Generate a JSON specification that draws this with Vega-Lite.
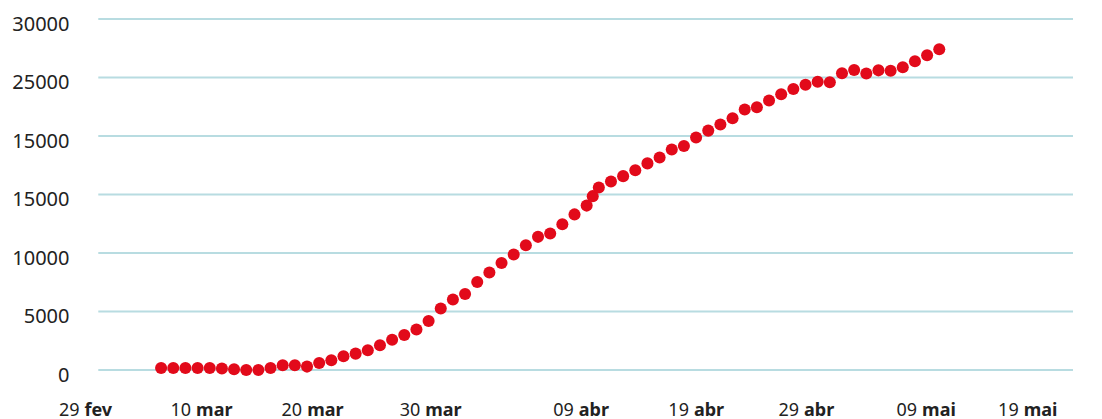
{
  "$schema": "https://vega.github.io/schema/vega-lite/v6.json",
  "width": 997,
  "height": 351,
  "autosize": "none",
  "padding": {"left": 76, "top": 19, "right": 29, "bottom": 49},
  "background": "white",
  "config": {"view": {"stroke": null}, "font": "Noto Sans"},
  "datasets": {
    "grid": [{"v": 0}, {"v": 5000}, {"v": 10000}, {"v": 15000}, {"v": 20000}, {"v": 25000}, {"v": 30000}],
    "cases": [
      {"date": "2020-03-07", "cases": 170},
      {"date": "2020-03-08", "cases": 170},
      {"date": "2020-03-09", "cases": 170},
      {"date": "2020-03-10", "cases": 170},
      {"date": "2020-03-11", "cases": 170},
      {"date": "2020-03-12", "cases": 120},
      {"date": "2020-03-13", "cases": 60},
      {"date": "2020-03-14", "cases": 0},
      {"date": "2020-03-15", "cases": 0},
      {"date": "2020-03-16", "cases": 170},
      {"date": "2020-03-17", "cases": 400},
      {"date": "2020-03-18", "cases": 400},
      {"date": "2020-03-19", "cases": 290},
      {"date": "2020-03-20", "cases": 600},
      {"date": "2020-03-21", "cases": 830},
      {"date": "2020-03-22", "cases": 1170},
      {"date": "2020-03-23", "cases": 1400},
      {"date": "2020-03-24", "cases": 1690},
      {"date": "2020-03-25", "cases": 2110},
      {"date": "2020-03-26", "cases": 2580},
      {"date": "2020-03-27", "cases": 2990},
      {"date": "2020-03-28", "cases": 3460},
      {"date": "2020-03-29", "cases": 4190},
      {"date": "2020-03-30", "cases": 5250},
      {"date": "2020-03-31", "cases": 6020},
      {"date": "2020-04-01", "cases": 6500},
      {"date": "2020-04-02", "cases": 7530},
      {"date": "2020-04-03", "cases": 8330},
      {"date": "2020-04-04", "cases": 9150},
      {"date": "2020-04-05", "cases": 9870},
      {"date": "2020-04-06", "cases": 10670},
      {"date": "2020-04-07", "cases": 11380},
      {"date": "2020-04-08", "cases": 11670},
      {"date": "2020-04-09", "cases": 12460},
      {"date": "2020-04-10", "cases": 13300},
      {"date": "2020-04-11", "cases": 14050},
      {"date": "2020-04-11T12:00:00Z", "cases": 14860},
      {"date": "2020-04-12", "cases": 15600},
      {"date": "2020-04-13", "cases": 16120},
      {"date": "2020-04-14", "cases": 16570},
      {"date": "2020-04-15", "cases": 17080},
      {"date": "2020-04-16", "cases": 17660},
      {"date": "2020-04-17", "cases": 18170},
      {"date": "2020-04-18", "cases": 18850},
      {"date": "2020-04-19", "cases": 19140},
      {"date": "2020-04-20", "cases": 19880},
      {"date": "2020-04-21", "cases": 20460},
      {"date": "2020-04-22", "cases": 20980},
      {"date": "2020-04-23", "cases": 21510},
      {"date": "2020-04-24", "cases": 22260},
      {"date": "2020-04-25", "cases": 22450},
      {"date": "2020-04-26", "cases": 23030},
      {"date": "2020-04-27", "cases": 23560},
      {"date": "2020-04-28", "cases": 24010},
      {"date": "2020-04-29", "cases": 24380},
      {"date": "2020-04-30", "cases": 24640},
      {"date": "2020-05-01", "cases": 24590},
      {"date": "2020-05-02", "cases": 25360},
      {"date": "2020-05-03", "cases": 25640},
      {"date": "2020-05-04", "cases": 25340},
      {"date": "2020-05-05", "cases": 25610},
      {"date": "2020-05-06", "cases": 25580},
      {"date": "2020-05-07", "cases": 25880},
      {"date": "2020-05-08", "cases": 26390},
      {"date": "2020-05-09", "cases": 26900},
      {"date": "2020-05-10", "cases": 27410}
    ]
  },
  "layer": [
    {
      "data": {"name": "grid"},
      "mark": {"type": "rule", "stroke": "#b8dce1", "strokeWidth": 2},
      "encoding": {
        "y": {
          "field": "v", "type": "quantitative",
          "scale": {"domain": [0, 30000], "nice": false, "zero": true},
          "axis": {"values": [0, 5000, 10000, 15000, 20000, 25000, 30000], "labelExpr": "datum.value == 20000 ? '15000' : format(datum.value, 'd')", "grid": false, "ticks": false, "domain": false, "title": null, "labelPadding": 7, "labelOffset": 5, "labelFont": "Noto Sans", "labelFontSize": 20, "labelColor": "#222222"}
        },
        "x": {
          "datum": {"year": 2020, "month": 3, "date": 1, "hours": 20, "utc": true},
          "type": "temporal",
          "scale": {"type": "utc", "domain": [{"year": 2020, "month": 2, "date": 29, "utc": true}, {"year": 2020, "month": 5, "date": 21, "utc": true}], "nice": false},
          "axis": {
            "orient": "bottom", "title": null,
            "values": [
              {"year": 2020, "month": 2, "date": 29, "utc": true},
              {"year": 2020, "month": 3, "date": 10, "utc": true},
              {"year": 2020, "month": 3, "date": 20, "utc": true},
              {"year": 2020, "month": 3, "date": 30, "utc": true},
              {"year": 2020, "month": 4, "date": 9, "utc": true},
              {"year": 2020, "month": 4, "date": 19, "utc": true},
              {"year": 2020, "month": 4, "date": 29, "utc": true},
              {"year": 2020, "month": 5, "date": 9, "utc": true},
              {"year": 2020, "month": 5, "date": 19, "utc": true}
            ],
            "labelExpr": "['jan','fev','mar','abr','mai','jun','jul','ago','set','out','nov','dez'][utcmonth(datum.value)]",
            "labelAlign": "left", "labelBaseline": "top", "labelFontWeight": "bold",
            "labelFont": "Noto Sans", "labelFontSize": 18, "labelColor": "#222222",
            "labelPadding": 31, "ticks": false, "tickSize": 0, "domain": false, "grid": false,
            "labelFlush": false, "labelOverlap": false,
            "labelOffset": {
              "condition": [
                {"test": "utcmonth(datum.value)==1", "value": 8},
                {"test": "utcmonth(datum.value)==2 && utcdate(datum.value)==10", "value": -2},
                {"test": "utcmonth(datum.value)==2 && utcdate(datum.value)==20", "value": -12.5},
                {"test": "utcmonth(datum.value)==2 && utcdate(datum.value)==30", "value": -16},
                {"test": "utcmonth(datum.value)==3 && utcdate(datum.value)==9", "value": 16},
                {"test": "utcmonth(datum.value)==3 && utcdate(datum.value)==19", "value": 9.5},
                {"test": "utcmonth(datum.value)==3 && utcdate(datum.value)==29", "value": -2},
                {"test": "utcmonth(datum.value)==4 && utcdate(datum.value)==9", "value": -5.5},
                {"test": "utcmonth(datum.value)==4 && utcdate(datum.value)==19", "value": -25.5}
              ],
              "value": 2
            }
          }
        },
        "x2": {"datum": {"year": 2020, "month": 5, "date": 21, "utc": true}}
      }
    },
    {
      "data": {"name": "cases"},
      "mark": {"type": "circle", "size": 145, "color": "#e20a1a", "opacity": 1},
      "encoding": {
        "x": {
          "field": "date", "type": "temporal",
          "scale": {"type": "utc", "domain": [{"year": 2020, "month": 2, "date": 29, "utc": true}, {"year": 2020, "month": 5, "date": 21, "utc": true}], "nice": false},
          "axis": {
            "orient": "bottom", "title": null,
            "values": [
              {"year": 2020, "month": 2, "date": 29, "utc": true},
              {"year": 2020, "month": 3, "date": 10, "utc": true},
              {"year": 2020, "month": 3, "date": 20, "utc": true},
              {"year": 2020, "month": 3, "date": 30, "utc": true},
              {"year": 2020, "month": 4, "date": 9, "utc": true},
              {"year": 2020, "month": 4, "date": 19, "utc": true},
              {"year": 2020, "month": 4, "date": 29, "utc": true},
              {"year": 2020, "month": 5, "date": 9, "utc": true},
              {"year": 2020, "month": 5, "date": 19, "utc": true}
            ],
            "labelExpr": "utcFormat(datum.value, '%d')",
            "labelAlign": "right", "labelBaseline": "top", "labelFontWeight": "normal",
            "labelFont": "Noto Sans", "labelFontSize": 18, "labelColor": "#222222",
            "labelPadding": 31, "ticks": false, "tickSize": 0, "domain": false, "grid": false,
            "labelFlush": false, "labelOverlap": false,
            "labelOffset": {
              "condition": [
                {"test": "utcmonth(datum.value)==1", "value": 3},
                {"test": "utcmonth(datum.value)==2 && utcdate(datum.value)==10", "value": -7},
                {"test": "utcmonth(datum.value)==2 && utcdate(datum.value)==20", "value": -17.5},
                {"test": "utcmonth(datum.value)==2 && utcdate(datum.value)==30", "value": -21},
                {"test": "utcmonth(datum.value)==3 && utcdate(datum.value)==9", "value": 11},
                {"test": "utcmonth(datum.value)==3 && utcdate(datum.value)==19", "value": 4.5},
                {"test": "utcmonth(datum.value)==3 && utcdate(datum.value)==29", "value": -7},
                {"test": "utcmonth(datum.value)==4 && utcdate(datum.value)==9", "value": -10.5},
                {"test": "utcmonth(datum.value)==4 && utcdate(datum.value)==19", "value": -30.5}
              ],
              "value": -3
            }
          }
        },
        "y": {
          "field": "cases", "type": "quantitative",
          "scale": {"domain": [0, 30000], "nice": false, "zero": true},
          "axis": {"values": [0, 5000, 10000, 15000, 20000, 25000, 30000], "labelExpr": "datum.value == 20000 ? '15000' : format(datum.value, 'd')", "grid": false, "ticks": false, "domain": false, "title": null, "labelPadding": 7, "labelOffset": 5, "labelFont": "Noto Sans", "labelFontSize": 20, "labelColor": "#222222"}
        }
      }
    }
  ],
  "resolve": {"axis": {"x": "independent"}}
}
